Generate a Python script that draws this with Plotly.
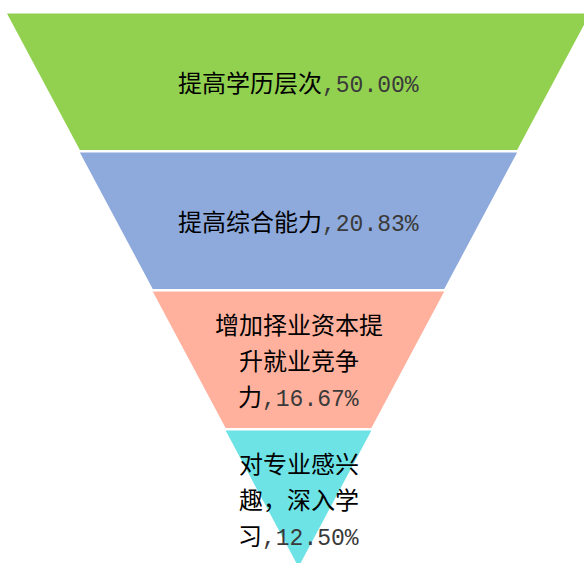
import plotly.graph_objects as go

# data
stages = ["提高学历层次", "提高综合能力", "增加择业资本提升就业竞争力", "对专业感兴趣，深入学习"]
shares = [50.00, 20.83, 16.67, 12.50]
colors = ["#92D150", "#8EAADC", "#FFB19D", "#6EE3E6"]

# geometry (pixels, figure is 584x563 with no margins)
W, H = 584, 563
top = 13.5
pitch = 139
gap = 2.5
cx, half_top = 298.5, 291.5
wrap_units = [20, 20, 7, 5]
font_size = 24
mono_size = 23
line_step = 36

n = len(stages)


def char_w(ch):
    return 1.0 if ord(ch) > 0x2000 else 0.6


def wrap(label, tail, limit):
    # keep the last char + ",xx.xx%" together, like the source chart does
    units = list(label[:-1]) + [label[-1] + tail]
    lines, cur, cur_w = [], "", 0.0
    for u in units:
        w = sum(char_w(c) for c in u)
        if cur and cur_w + w > limit and u not in "，":
            lines.append(cur)
            cur, cur_w = "", 0.0
        cur += u
        cur_w += w
    lines.append(cur)
    return lines


fig = go.Figure()
annotations = []
for i, (label, val, col) in enumerate(zip(stages, shares, colors)):
    y0 = top + i * pitch
    y1 = y0 + pitch - gap
    hw0 = half_top * (1 - i / n)
    hw1 = half_top * (1 - (i + 1) / n)
    xs = [cx - hw0, cx + hw0, cx + hw1, cx - hw1, cx - hw0]
    ys = [y0, y0, y1, y1, y0]
    fig.add_trace(go.Scatter(
        x=xs, y=ys, fill="toself", fillcolor=col, mode="lines",
        line=dict(width=0), hoverinfo="text", text=f"{label}: {val:.2f}%",
        showlegend=False,
    ))

    tail = f",{val:.2f}%"
    lines = wrap(label, tail, wrap_units[i])
    mid = (y0 + y1) / 2
    for j, ln in enumerate(lines):
        if tail in ln:
            head = ln[: ln.index(tail)]
            ln = head + (f"<span style='font-family:Liberation Mono, monospace;"
                         f"font-size:{mono_size}px;color:#3a3a3a'>{tail}</span>")
        yy = mid + (j - (len(lines) - 1) / 2) * line_step
        annotations.append(dict(
            x=cx, y=yy, text=ln, showarrow=False, xanchor="center", yanchor="middle",
            font=dict(family="Noto Sans CJK SC", size=font_size, color="#000"),
        ))

fig.update_layout(
    width=W, height=H,
    margin=dict(l=0, r=0, t=0, b=0),
    paper_bgcolor="white", plot_bgcolor="white",
    xaxis=dict(range=[0, W], visible=False, fixedrange=True),
    yaxis=dict(range=[H, 0], visible=False, fixedrange=True),
    annotations=annotations,
)

fig.write_html("out.html", config={"displayModeBar": False},
               post_script="document.body.style.margin='0';")
